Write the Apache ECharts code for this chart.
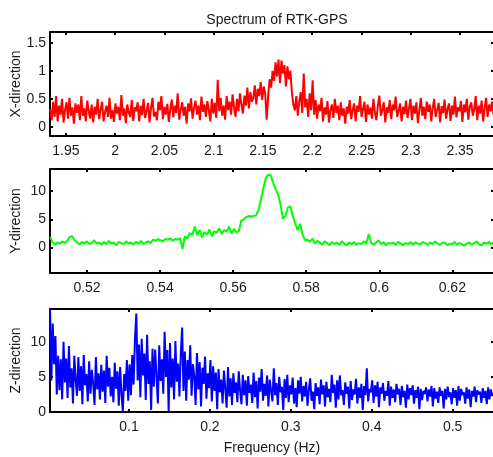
<!DOCTYPE html>
<html>
<head>
<meta charset="utf-8">
<script src="https://cdn.jsdelivr.net/npm/echarts@6/dist/echarts.min.js"></script>
<style>
  html, body { margin: 0; padding: 0; background: #fff; }
  #chart { width: 493px; height: 457px; }
</style>
</head>
<body>
<div id="chart"></div>
<script>
// Frequency grids (uniform FFT bins) for each direction
const xFreqStart = 1.934, xFreqStep = 0.001505;
const yFreqStart = 0.5099, yFreqStep = 0.000671;
const zFreqStart = 0.0024, zFreqStep = 0.001666;

// X-direction spectrum amplitude
const xAmp = [
  .32,.12,.45,.18,.55,.1,.38,.22,.5,.08,.3,.44,.15,.52,.2,.35,.06,.42,.25,.4,
  .12,.55,.2,.33,.1,.47,.28,.15,.4,.08,.36,.22,.5,.14,.31,.45,.1,.27,.38,.18,
  .52,.15,.3,.09,.42,.24,.36,.12,.57,.2,.33,.07,.4,.26,.18,.48,.11,.35,.28,.44,
  .1,.38,.21,.5,.16,.29,.43,.08,.34,.52,.19,.27,.12,.45,.3,.55,.14,.36,.22,.41,
  .09,.32,.49,.17,.38,.25,.6,.13,.3,.44,.2,.36,.06,.42,.28,.51,.15,.34,.47,.22,
  .38,.12,.54,.27,.4,.18,.46,.3,.1,.5,.24,.43,.16,.84,.28,.52,.2,.38,.13,.55,
  .3,.45,.22,.58,.35,.18,.5,.28,.6,.4,.24,.56,.38,.7,.33,.62,.45,.52,.74,.4,
  .68,.55,.8,.48,.72,.6,.13,.55,.85,.7,1.0,.82,1.15,.9,1.2,.78,1.18,.95,1.1,.72,
  1.08,.85,1.0,.62,.4,.3,.55,.2,.45,.62,.25,.95,.35,.5,.18,.6,.3,.83,.22,.48,
  .15,.4,.28,.52,.1,.35,.22,.46,.08,.3,.4,.16,.5,.25,.38,.12,.44,.2,.33,.06,
  .36,.24,.48,.14,.3,.42,.1,.38,.27,.55,.18,.32,.45,.09,.4,.22,.35,.15,.5,.26,
  .12,.38,.56,.2,.3,.44,.08,.35,.25,.48,.14,.4,.3,.54,.18,.28,.42,.1,.36,.23,
  .47,.16,.33,.5,.12,.38,.24,.44,.07,.3,.52,.2,.36,.14,.45,.27,.4,.1,.34,.5,
  .18,.3,.43,.08,.37,.25,.49,.15,.32,.42,.11,.38,.22,.54,.17,.35,.28,.46,.09,.4,
  .26,.5,.13,.36,.44,.2,.31,.55,.12,.38,.24,.47,.1,.33,.52,.18,.4,.28,.45,.22
];

// Y-direction spectrum amplitude
const yAmp = [
  1.9,1.0,0.5,0.9,0.7,1.1,0.8,1.2,1.9,2.0,1.3,0.9,0.6,1.0,0.7,1.1,0.6,0.8,1.3,0.7,
  0.9,0.5,1.0,0.6,1.2,0.7,0.9,0.4,1.0,0.8,0.6,1.1,0.7,0.9,0.5,1.0,0.7,1.2,0.6,0.9,
  1.1,0.8,1.4,1.2,1.5,1.3,1.1,1.5,1.4,1.6,1.2,1.5,1.4,1.7,-0.2,2.0,1.6,2.6,2.2,3.7,
  2.2,3.1,1.8,2.7,2.3,3.2,2.0,2.9,2.6,3.4,2.4,3.1,2.8,3.7,2.5,3.3,2.7,2.9,4.8,5.0,
  5.4,5.6,5.5,5.6,5.7,6.6,8.5,10.5,12.3,12.9,12.8,11.5,10.3,9.4,7.6,5.1,5.6,7.1,7.3,5.6,
  4.2,3.1,4.2,2.3,1.3,1.4,1.0,1.6,0.7,1.2,0.9,0.5,1.1,0.8,0.4,1.0,0.6,0.9,0.5,1.1,
  0.7,0.4,0.9,0.6,1.0,0.5,0.8,0.6,1.1,0.7,2.4,0.8,0.5,0.9,1.3,0.6,1.0,0.4,0.8,0.7,
  0.9,0.5,1.0,0.7,0.4,0.8,0.6,1.0,0.5,0.9,0.7,0.6,1.0,0.8,0.5,0.9,0.6,1.1,0.7,0.5,
  0.8,0.9,0.4,0.7,0.6,1.0,0.5,0.8,0.6,0.3,0.7,0.9,0.5,0.8,1.1,0.6,0.4,0.9,0.7,1.0,
  0.6,0.9
];

// Z-direction spectrum amplitude
const zAmp = [
  14.6,4.5,12.6,6.8,10.8,2.5,8.0,3.1,7.5,1.8,10.0,4.2,7.6,2.0,9.4,3.5,6.2,1.2,8.0,4.6,
  2.3,7.8,3.0,6.5,1.1,8.1,3.8,5.4,1.5,7.2,2.6,6.0,4.0,1.0,7.8,3.2,5.5,1.8,6.7,2.9,
  5.9,1.3,8.0,3.6,6.3,2.2,5.0,1.4,7.0,3.3,5.8,0.9,6.4,2.5,0.0,5.4,3.0,7.4,1.6,6.8,
  2.4,8.1,3.9,10.3,14.0,4.5,9.6,2.1,10.4,5.2,8.3,1.7,11.0,4.0,7.2,0.3,9.0,3.6,8.9,5.0,
  1.2,9.5,4.4,7.5,2.6,11.4,5.0,8.8,0.0,9.8,3.5,7.6,1.8,10.1,4.3,6.9,2.2,8.3,12.0,3.0,
  8.6,1.6,7.4,4.6,9.5,2.3,6.8,5.1,1.0,8.4,3.2,7.1,0.8,6.3,4.0,7.9,1.9,5.5,3.4,7.4,
  1.5,6.5,3.0,5.6,0.4,6.1,2.8,4.6,1.2,5.9,3.3,0.6,6.4,2.2,4.8,1.0,5.5,2.7,4.2,1.4,
  5.8,3.0,1.1,5.3,2.4,4.5,0.9,5.1,2.7,3.9,1.3,5.6,2.1,4.4,0.5,4.9,2.9,6.1,1.6,4.0,
  2.3,5.2,0.8,4.6,3.0,1.5,6.2,2.4,4.1,1.0,5.0,2.8,3.6,0.3,4.7,2.0,5.3,1.4,3.8,2.5,
  4.9,1.2,3.4,0.7,4.5,2.6,5.0,1.5,3.7,2.2,4.3,0.9,3.2,4.8,1.6,2.9,0.4,4.1,2.3,3.5,
  1.1,4.6,2.5,3.8,0.8,4.3,2.1,3.3,1.4,5.3,2.7,3.9,0.6,4.5,1.8,5.2,2.4,3.1,1.0,4.2,
  2.6,3.6,0.5,4.4,1.7,3.2,2.5,4.7,1.2,3.5,2.0,4.0,0.3,3.7,2.4,6.2,1.5,3.3,2.8,4.5,
  1.3,3.8,2.2,4.3,0.7,3.5,2.6,4.1,1.6,3.0,2.3,4.4,0.9,3.6,2.0,3.2,1.4,4.0,2.5,3.3,
  1.0,3.7,2.1,3.0,0.6,3.9,1.8,3.4,2.4,3.8,1.2,3.1,2.0,3.6,0.4,3.3,1.7,3.0,2.6,3.5,
  1.5,3.2,2.2,3.7,0.8,3.4,1.9,2.9,1.3,3.5,2.3,3.0,0.5,3.3,1.8,3.6,2.1,2.8,1.1,3.4,
  2.0,3.1,0.9,3.7,1.6,3.3,2.4,2.8,1.2,3.5,1.9,3.2,0.7,3.0,2.2,3.6,1.4,3.1,2.5,2.9,
  1.3,3.4,2.0,3.0,1.1,3.5,1.8,3.2,2.3,2.7
];

// Tick positions
const xTicksX = [1.95, 2, 2.05, 2.1, 2.15, 2.2, 2.25, 2.3, 2.35];
const xTicksY = [0, 0.5, 1, 1.5];
const yTicksX = [0.52, 0.54, 0.56, 0.58, 0.6, 0.62];
const yTicksY = [0, 5, 10];
const zTicksX = [0.1, 0.2, 0.3, 0.4, 0.5];
const zTicksY = [0, 5, 10];

const FONT = 'Liberation Sans, Arial, Helvetica, sans-serif';
const fmt = v => String(parseFloat(Number(v).toFixed(3)));

function toPairs(start, step, amp) {
  return amp.map((v, i) => [start + i * step, v]);
}

const grids = [
  { left: 50, top: 32, width: 444, height: 104, outerBoundsMode: 'none', containLabel: false },
  { left: 50, top: 169, width: 444, height: 104, outerBoundsMode: 'none', containLabel: false },
  { left: 50, top: 309, width: 444, height: 103, outerBoundsMode: 'none', containLabel: false }
];

const panels = [
  { xr: [1.9338, 2.3845], yr: [-0.16, 1.69], xt: xTicksX, yt: xTicksY, yName: 'X-direction', xName: '' },
  { xr: [0.50987, 0.63141], yr: [-4.5, 13.9], xt: yTicksX, yt: yTicksY, yName: 'Y-direction', xName: '' },
  { xr: [0.00235, 0.5511], yr: [0, 14.65], xt: zTicksX, yt: zTicksY, yName: 'Z-direction', xName: 'Frequency (Hz)' }
];

const xAxes = [], yAxes = [];
panels.forEach((p, g) => {
  const line = { show: true, onZero: false, lineStyle: { color: '#000', width: 2 } };
  const tick = vals => ({ show: true, inside: true, length: 3, customValues: vals, lineStyle: { color: '#000', width: 2 } });
  // bottom axis with labels
  xAxes.push({
    type: 'value', gridIndex: g, position: 'bottom', min: p.xr[0], max: p.xr[1],
    axisLine: line, axisTick: tick(p.xt), splitLine: { show: false },
    axisLabel: { customValues: p.xt, formatter: fmt, color: '#1a1a1a', fontFamily: FONT, fontSize: 14, margin: 8 },
    name: p.xName, nameLocation: 'middle', nameGap: 29, nameMoveOverlap: false,
    nameTextStyle: { color: '#1a1a1a', fontFamily: FONT, fontSize: 14 }
  });
  // mirrored top axis
  xAxes.push({
    type: 'value', gridIndex: g, position: 'top', min: p.xr[0], max: p.xr[1],
    axisLine: line, axisTick: tick(p.xt), axisLabel: { show: false }, splitLine: { show: false }
  });
  // left axis with labels
  yAxes.push({
    type: 'value', gridIndex: g, position: 'left', min: p.yr[0], max: p.yr[1],
    axisLine: line, axisTick: tick(p.yt), splitLine: { show: false },
    axisLabel: { customValues: p.yt, formatter: fmt, color: '#1a1a1a', fontFamily: FONT, fontSize: 14, margin: 4 },
    name: p.yName, nameLocation: 'middle', nameGap: 27, nameMoveOverlap: false,
    nameTextStyle: { color: '#1a1a1a', fontFamily: FONT, fontSize: 14 }
  });
  // mirrored right axis
  yAxes.push({
    type: 'value', gridIndex: g, position: 'right', min: p.yr[0], max: p.yr[1],
    axisLine: line, axisTick: tick(p.yt), axisLabel: { show: false }, splitLine: { show: false }
  });
});

const chart = echarts.init(document.getElementById('chart'), null, { renderer: 'canvas' });
chart.setOption({
  animation: false,
  backgroundColor: '#fff',
  title: {
    text: 'Spectrum of RTK-GPS', left: 272, top: 8, textAlign: 'center',
    textStyle: { color: '#1a1a1a', fontFamily: FONT, fontSize: 14, fontWeight: 'normal' }
  },
  grid: grids,
  xAxis: xAxes,
  yAxis: yAxes,
  series: [
    { type: 'line', xAxisIndex: 0, yAxisIndex: 0, data: toPairs(xFreqStart, xFreqStep, xAmp),
      showSymbol: false, lineStyle: { color: '#ff0000', width: 2 }, clip: true },
    { type: 'line', xAxisIndex: 2, yAxisIndex: 2, data: toPairs(yFreqStart, yFreqStep, yAmp),
      showSymbol: false, lineStyle: { color: '#00ff00', width: 2 }, clip: true },
    { type: 'line', xAxisIndex: 4, yAxisIndex: 4, data: toPairs(zFreqStart, zFreqStep, zAmp),
      showSymbol: false, lineStyle: { color: '#0000ff', width: 2 }, clip: true }
  ]
});
</script>
</body>
</html>
